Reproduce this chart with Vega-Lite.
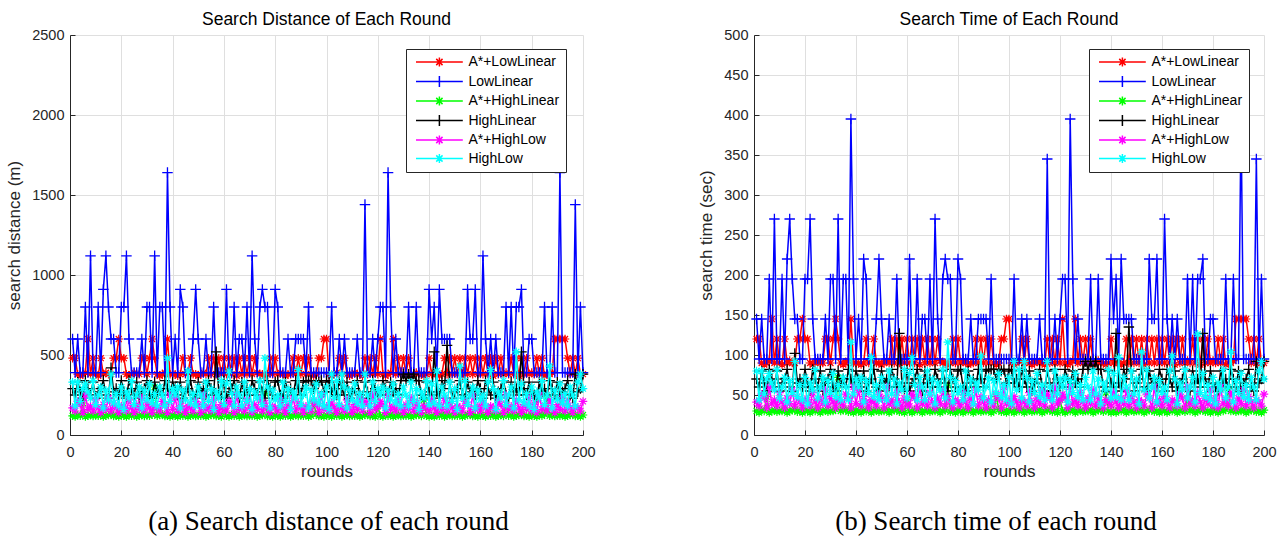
{
"$schema": "https://vega.github.io/schema/vega-lite/v6.json",
"background": "white",
"padding": {"left": 5, "top": 10, "right": 5, "bottom": 5},
"spacing": 101,
"datasets": {
"dist": [
{"r":1,"a":480,"b":600,"c":120,"d":290,"e":170,"f":330},
{"r":2,"a":480,"b":390,"c":115,"d":250,"e":150,"f":180},
{"r":3,"a":380,"b":600,"c":125,"d":330,"e":210,"f":330},
{"r":4,"a":370,"b":390,"c":120,"d":270,"e":190,"f":210},
{"r":5,"a":380,"b":390,"c":200,"d":230,"e":140,"f":290},
{"r":6,"a":390,"b":800,"c":115,"d":340,"e":250,"f":320},
{"r":7,"a":600,"b":390,"c":120,"d":290,"e":160,"f":270},
{"r":8,"a":380,"b":1120,"c":125,"d":250,"e":180,"f":230},
{"r":9,"a":480,"b":390,"c":118,"d":330,"e":150,"f":340},
{"r":10,"a":380,"b":390,"c":122,"d":230,"e":220,"f":190},
{"r":11,"a":370,"b":800,"c":120,"d":270,"e":170,"f":250},
{"r":12,"a":480,"b":390,"c":128,"d":290,"e":140,"f":300},
{"r":13,"a":380,"b":910,"c":115,"d":340,"e":190,"f":170},
{"r":14,"a":390,"b":1120,"c":120,"d":250,"e":160,"f":280},
{"r":15,"a":380,"b":800,"c":125,"d":230,"e":230,"f":220},
{"r":16,"a":380,"b":600,"c":130,"d":420,"e":150,"f":380},
{"r":17,"a":480,"b":600,"c":118,"d":270,"e":200,"f":200},
{"r":18,"a":480,"b":390,"c":120,"d":290,"e":170,"f":260},
{"r":19,"a":600,"b":390,"c":115,"d":250,"e":140,"f":180},
{"r":20,"a":480,"b":800,"c":125,"d":340,"e":180,"f":300},
{"r":21,"a":480,"b":800,"c":120,"d":270,"e":180,"f":160},
{"r":22,"a":380,"b":1120,"c":115,"d":230,"e":150,"f":270},
{"r":23,"a":370,"b":600,"c":125,"d":340,"e":220,"f":230},
{"r":24,"a":380,"b":390,"c":120,"d":290,"e":170,"f":340},
{"r":25,"a":390,"b":390,"c":130,"d":250,"e":140,"f":190},
{"r":26,"a":380,"b":390,"c":115,"d":330,"e":190,"f":250},
{"r":27,"a":380,"b":390,"c":120,"d":230,"e":160,"f":300},
{"r":28,"a":480,"b":600,"c":125,"d":270,"e":230,"f":170},
{"r":29,"a":480,"b":390,"c":118,"d":290,"e":150,"f":280},
{"r":30,"a":380,"b":800,"c":122,"d":340,"e":200,"f":220},
{"r":31,"a":480,"b":800,"c":120,"d":250,"e":170,"f":320},
{"r":32,"a":600,"b":390,"c":128,"d":230,"e":140,"f":200},
{"r":33,"a":480,"b":1120,"c":300,"d":330,"e":180,"f":260},
{"r":34,"a":380,"b":390,"c":120,"d":270,"e":170,"f":180},
{"r":35,"a":370,"b":800,"c":125,"d":290,"e":150,"f":300},
{"r":36,"a":380,"b":800,"c":130,"d":250,"e":210,"f":250},
{"r":37,"a":390,"b":390,"c":118,"d":340,"e":190,"f":180},
{"r":38,"a":600,"b":1640,"c":120,"d":290,"e":140,"f":480},
{"r":39,"a":380,"b":800,"c":115,"d":250,"e":250,"f":210},
{"r":40,"a":380,"b":390,"c":125,"d":330,"e":160,"f":290},
{"r":41,"a":380,"b":600,"c":120,"d":290,"e":230,"f":250},
{"r":42,"a":370,"b":390,"c":115,"d":250,"e":150,"f":300},
{"r":43,"a":380,"b":910,"c":125,"d":330,"e":200,"f":170},
{"r":44,"a":480,"b":800,"c":120,"d":230,"e":170,"f":280},
{"r":45,"a":380,"b":390,"c":130,"d":270,"e":140,"f":220},
{"r":46,"a":390,"b":390,"c":115,"d":290,"e":180,"f":400},
{"r":47,"a":480,"b":390,"c":120,"d":340,"e":170,"f":200},
{"r":48,"a":380,"b":600,"c":125,"d":250,"e":150,"f":260},
{"r":49,"a":380,"b":910,"c":118,"d":230,"e":210,"f":180},
{"r":50,"a":370,"b":600,"c":122,"d":330,"e":190,"f":300},
{"r":51,"a":380,"b":390,"c":120,"d":270,"e":140,"f":250},
{"r":52,"a":390,"b":390,"c":128,"d":290,"e":250,"f":180},
{"r":53,"a":380,"b":600,"c":115,"d":250,"e":160,"f":330},
{"r":54,"a":480,"b":390,"c":120,"d":340,"e":180,"f":210},
{"r":55,"a":380,"b":390,"c":125,"d":290,"e":150,"f":290},
{"r":56,"a":480,"b":800,"c":130,"d":250,"e":220,"f":160},
{"r":57,"a":380,"b":390,"c":118,"d":520,"e":170,"f":270},
{"r":58,"a":480,"b":390,"c":120,"d":270,"e":140,"f":230},
{"r":59,"a":380,"b":390,"c":115,"d":230,"e":190,"f":340},
{"r":60,"a":480,"b":390,"c":180,"d":340,"e":160,"f":190},
{"r":61,"a":380,"b":910,"c":120,"d":230,"e":150,"f":320},
{"r":62,"a":480,"b":390,"c":115,"d":270,"e":210,"f":400},
{"r":63,"a":380,"b":390,"c":125,"d":290,"e":190,"f":260},
{"r":64,"a":480,"b":800,"c":120,"d":340,"e":140,"f":180},
{"r":65,"a":370,"b":390,"c":130,"d":250,"e":250,"f":300},
{"r":66,"a":480,"b":600,"c":115,"d":230,"e":160,"f":250},
{"r":67,"a":380,"b":600,"c":120,"d":330,"e":180,"f":180},
{"r":68,"a":480,"b":390,"c":125,"d":270,"e":150,"f":330},
{"r":69,"a":380,"b":800,"c":118,"d":290,"e":220,"f":210},
{"r":70,"a":480,"b":390,"c":122,"d":250,"e":170,"f":290},
{"r":71,"a":380,"b":1120,"c":120,"d":340,"e":140,"f":160},
{"r":72,"a":480,"b":600,"c":128,"d":290,"e":190,"f":270},
{"r":73,"a":390,"b":390,"c":115,"d":250,"e":160,"f":230},
{"r":74,"a":380,"b":800,"c":120,"d":330,"e":230,"f":340},
{"r":75,"a":380,"b":910,"c":125,"d":270,"e":150,"f":190},
{"r":76,"a":370,"b":800,"c":260,"d":230,"e":200,"f":480},
{"r":77,"a":380,"b":800,"c":118,"d":340,"e":170,"f":300},
{"r":78,"a":480,"b":390,"c":120,"d":290,"e":140,"f":170},
{"r":79,"a":380,"b":390,"c":115,"d":250,"e":180,"f":280},
{"r":80,"a":480,"b":910,"c":125,"d":330,"e":170,"f":220},
{"r":81,"a":380,"b":800,"c":120,"d":340,"e":150,"f":250},
{"r":82,"a":390,"b":390,"c":115,"d":250,"e":220,"f":180},
{"r":83,"a":380,"b":390,"c":125,"d":230,"e":170,"f":330},
{"r":84,"a":370,"b":390,"c":120,"d":330,"e":140,"f":210},
{"r":85,"a":380,"b":600,"c":130,"d":270,"e":190,"f":290},
{"r":86,"a":380,"b":390,"c":115,"d":290,"e":160,"f":160},
{"r":87,"a":480,"b":390,"c":120,"d":250,"e":230,"f":270},
{"r":88,"a":380,"b":600,"c":125,"d":340,"e":150,"f":230},
{"r":89,"a":480,"b":600,"c":118,"d":290,"e":200,"f":410},
{"r":90,"a":380,"b":600,"c":122,"d":250,"e":170,"f":190},
{"r":91,"a":480,"b":600,"c":120,"d":330,"e":140,"f":250},
{"r":92,"a":380,"b":390,"c":128,"d":340,"e":180,"f":300},
{"r":93,"a":480,"b":800,"c":115,"d":340,"e":170,"f":170},
{"r":94,"a":380,"b":390,"c":120,"d":340,"e":150,"f":280},
{"r":95,"a":370,"b":390,"c":200,"d":290,"e":210,"f":220},
{"r":96,"a":380,"b":390,"c":130,"d":340,"e":190,"f":320},
{"r":97,"a":480,"b":390,"c":118,"d":330,"e":140,"f":200},
{"r":98,"a":480,"b":390,"c":120,"d":340,"e":250,"f":260},
{"r":99,"a":600,"b":390,"c":115,"d":270,"e":160,"f":180},
{"r":100,"a":600,"b":390,"c":125,"d":340,"e":180,"f":300},
{"r":101,"a":380,"b":390,"c":120,"d":330,"e":150,"f":160},
{"r":102,"a":370,"b":800,"c":115,"d":270,"e":200,"f":380},
{"r":103,"a":380,"b":390,"c":125,"d":290,"e":170,"f":230},
{"r":104,"a":390,"b":390,"c":120,"d":250,"e":140,"f":340},
{"r":105,"a":480,"b":600,"c":130,"d":340,"e":180,"f":190},
{"r":106,"a":380,"b":390,"c":115,"d":290,"e":170,"f":380},
{"r":107,"a":480,"b":600,"c":120,"d":250,"e":150,"f":300},
{"r":108,"a":380,"b":390,"c":125,"d":330,"e":220,"f":170},
{"r":109,"a":370,"b":390,"c":118,"d":230,"e":170,"f":280},
{"r":110,"a":380,"b":390,"c":122,"d":270,"e":140,"f":220},
{"r":111,"a":390,"b":390,"c":120,"d":290,"e":190,"f":320},
{"r":112,"a":380,"b":600,"c":128,"d":340,"e":160,"f":200},
{"r":113,"a":380,"b":390,"c":115,"d":250,"e":230,"f":260},
{"r":114,"a":370,"b":390,"c":120,"d":230,"e":150,"f":180},
{"r":115,"a":480,"b":1440,"c":125,"d":330,"e":210,"f":380},
{"r":116,"a":380,"b":390,"c":130,"d":270,"e":190,"f":250},
{"r":117,"a":480,"b":390,"c":118,"d":230,"e":140,"f":180},
{"r":118,"a":380,"b":600,"c":120,"d":340,"e":250,"f":330},
{"r":119,"a":480,"b":390,"c":115,"d":290,"e":160,"f":210},
{"r":120,"a":380,"b":600,"c":180,"d":250,"e":180,"f":290},
{"r":121,"a":600,"b":800,"c":120,"d":250,"e":210,"f":250},
{"r":122,"a":380,"b":800,"c":115,"d":340,"e":190,"f":300},
{"r":123,"a":370,"b":390,"c":125,"d":290,"e":140,"f":170},
{"r":124,"a":380,"b":1640,"c":120,"d":250,"e":250,"f":280},
{"r":125,"a":390,"b":800,"c":130,"d":330,"e":160,"f":220},
{"r":126,"a":600,"b":390,"c":115,"d":270,"e":180,"f":320},
{"r":127,"a":380,"b":600,"c":120,"d":290,"e":150,"f":200},
{"r":128,"a":480,"b":390,"c":125,"d":250,"e":220,"f":260},
{"r":129,"a":380,"b":390,"c":118,"d":340,"e":170,"f":180},
{"r":130,"a":480,"b":390,"c":122,"d":380,"e":140,"f":300},
{"r":131,"a":380,"b":390,"c":120,"d":340,"e":190,"f":250},
{"r":132,"a":480,"b":800,"c":128,"d":380,"e":160,"f":180},
{"r":133,"a":370,"b":390,"c":115,"d":340,"e":230,"f":330},
{"r":134,"a":380,"b":390,"c":120,"d":380,"e":150,"f":210},
{"r":135,"a":390,"b":800,"c":125,"d":340,"e":200,"f":290},
{"r":136,"a":380,"b":390,"c":130,"d":340,"e":170,"f":160},
{"r":137,"a":380,"b":390,"c":118,"d":250,"e":140,"f":270},
{"r":138,"a":370,"b":390,"c":220,"d":230,"e":180,"f":230},
{"r":139,"a":380,"b":390,"c":120,"d":330,"e":170,"f":340},
{"r":140,"a":480,"b":910,"c":115,"d":270,"e":150,"f":190},
{"r":141,"a":380,"b":600,"c":120,"d":250,"e":220,"f":320},
{"r":142,"a":390,"b":800,"c":115,"d":520,"e":170,"f":200},
{"r":143,"a":380,"b":390,"c":125,"d":270,"e":140,"f":400},
{"r":144,"a":370,"b":910,"c":120,"d":230,"e":190,"f":180},
{"r":145,"a":380,"b":600,"c":130,"d":340,"e":160,"f":300},
{"r":146,"a":480,"b":600,"c":115,"d":290,"e":230,"f":250},
{"r":147,"a":380,"b":600,"c":120,"d":560,"e":150,"f":180},
{"r":148,"a":480,"b":600,"c":125,"d":330,"e":200,"f":330},
{"r":149,"a":380,"b":390,"c":118,"d":230,"e":170,"f":210},
{"r":150,"a":480,"b":390,"c":122,"d":270,"e":140,"f":290},
{"r":151,"a":380,"b":390,"c":120,"d":290,"e":180,"f":160},
{"r":152,"a":480,"b":390,"c":128,"d":340,"e":170,"f":430},
{"r":153,"a":370,"b":390,"c":115,"d":250,"e":150,"f":230},
{"r":154,"a":480,"b":390,"c":120,"d":230,"e":210,"f":340},
{"r":155,"a":380,"b":910,"c":125,"d":330,"e":190,"f":190},
{"r":156,"a":480,"b":600,"c":130,"d":270,"e":140,"f":250},
{"r":157,"a":380,"b":600,"c":118,"d":290,"e":250,"f":300},
{"r":158,"a":480,"b":910,"c":120,"d":250,"e":160,"f":170},
{"r":159,"a":380,"b":390,"c":115,"d":340,"e":180,"f":280},
{"r":160,"a":480,"b":390,"c":125,"d":290,"e":150,"f":220},
{"r":161,"a":380,"b":1120,"c":120,"d":230,"e":200,"f":250},
{"r":162,"a":480,"b":600,"c":115,"d":340,"e":170,"f":180},
{"r":163,"a":380,"b":390,"c":125,"d":290,"e":140,"f":330},
{"r":164,"a":480,"b":600,"c":120,"d":250,"e":180,"f":410},
{"r":165,"a":370,"b":390,"c":130,"d":330,"e":170,"f":290},
{"r":166,"a":480,"b":600,"c":115,"d":230,"e":150,"f":160},
{"r":167,"a":380,"b":390,"c":120,"d":270,"e":210,"f":270},
{"r":168,"a":480,"b":390,"c":125,"d":290,"e":190,"f":230},
{"r":169,"a":380,"b":390,"c":118,"d":340,"e":140,"f":340},
{"r":170,"a":390,"b":800,"c":190,"d":250,"e":250,"f":190},
{"r":171,"a":380,"b":390,"c":120,"d":230,"e":160,"f":250},
{"r":172,"a":480,"b":800,"c":128,"d":330,"e":180,"f":300},
{"r":173,"a":380,"b":390,"c":115,"d":270,"e":150,"f":170},
{"r":174,"a":480,"b":800,"c":120,"d":290,"e":220,"f":520},
{"r":175,"a":370,"b":800,"c":125,"d":250,"e":170,"f":220},
{"r":176,"a":480,"b":910,"c":130,"d":520,"e":140,"f":320},
{"r":177,"a":380,"b":390,"c":118,"d":290,"e":190,"f":200},
{"r":178,"a":480,"b":390,"c":120,"d":250,"e":160,"f":260},
{"r":179,"a":380,"b":600,"c":115,"d":330,"e":230,"f":180},
{"r":180,"a":390,"b":600,"c":125,"d":270,"e":150,"f":300},
{"r":181,"a":380,"b":390,"c":120,"d":250,"e":190,"f":160},
{"r":182,"a":480,"b":390,"c":115,"d":230,"e":140,"f":270},
{"r":183,"a":380,"b":390,"c":125,"d":330,"e":250,"f":230},
{"r":184,"a":480,"b":390,"c":120,"d":270,"e":160,"f":340},
{"r":185,"a":370,"b":800,"c":130,"d":290,"e":180,"f":190},
{"r":186,"a":380,"b":390,"c":240,"d":250,"e":150,"f":250},
{"r":187,"a":380,"b":390,"c":120,"d":340,"e":220,"f":430},
{"r":188,"a":390,"b":800,"c":125,"d":290,"e":170,"f":170},
{"r":189,"a":600,"b":390,"c":118,"d":250,"e":140,"f":280},
{"r":190,"a":600,"b":390,"c":122,"d":330,"e":190,"f":220},
{"r":191,"a":600,"b":1640,"c":120,"d":230,"e":160,"f":320},
{"r":192,"a":600,"b":390,"c":128,"d":270,"e":230,"f":200},
{"r":193,"a":600,"b":390,"c":115,"d":290,"e":150,"f":260},
{"r":194,"a":480,"b":390,"c":120,"d":340,"e":200,"f":180},
{"r":195,"a":380,"b":390,"c":125,"d":250,"e":170,"f":300},
{"r":196,"a":480,"b":390,"c":130,"d":230,"e":140,"f":250},
{"r":197,"a":380,"b":1440,"c":118,"d":380,"e":180,"f":180},
{"r":198,"a":480,"b":390,"c":120,"d":270,"e":170,"f":330},
{"r":199,"a":380,"b":800,"c":115,"d":290,"e":150,"f":380},
{"r":200,"a":380,"b":390,"c":125,"d":380,"e":210,"f":290}
],
"time": [
{"r":1,"a":120,"b":145,"c":30,"d":70,"e":41,"f":80},
{"r":2,"a":120,"b":95,"c":28,"d":60,"e":36,"f":44},
{"r":3,"a":90,"b":145,"c":31,"d":80,"e":51,"f":80},
{"r":4,"a":88,"b":95,"c":30,"d":65,"e":46,"f":51},
{"r":5,"a":90,"b":95,"c":48,"d":55,"e":34,"f":70},
{"r":6,"a":93,"b":195,"c":28,"d":82,"e":60,"f":77},
{"r":7,"a":145,"b":95,"c":30,"d":70,"e":39,"f":65},
{"r":8,"a":90,"b":270,"c":31,"d":60,"e":44,"f":56},
{"r":9,"a":120,"b":95,"c":29,"d":80,"e":36,"f":82},
{"r":10,"a":90,"b":95,"c":30,"d":55,"e":53,"f":46},
{"r":11,"a":88,"b":195,"c":30,"d":65,"e":41,"f":60},
{"r":12,"a":120,"b":95,"c":32,"d":70,"e":34,"f":72},
{"r":13,"a":90,"b":220,"c":28,"d":82,"e":46,"f":41},
{"r":14,"a":93,"b":270,"c":30,"d":60,"e":39,"f":68},
{"r":15,"a":90,"b":195,"c":31,"d":55,"e":56,"f":53},
{"r":16,"a":90,"b":145,"c":32,"d":102,"e":36,"f":92},
{"r":17,"a":120,"b":145,"c":29,"d":65,"e":48,"f":48},
{"r":18,"a":120,"b":95,"c":30,"d":70,"e":41,"f":63},
{"r":19,"a":145,"b":95,"c":28,"d":60,"e":34,"f":44},
{"r":20,"a":120,"b":195,"c":31,"d":82,"e":44,"f":72},
{"r":21,"a":120,"b":195,"c":30,"d":65,"e":44,"f":39},
{"r":22,"a":90,"b":270,"c":28,"d":55,"e":36,"f":65},
{"r":23,"a":88,"b":145,"c":31,"d":82,"e":53,"f":56},
{"r":24,"a":90,"b":95,"c":30,"d":70,"e":41,"f":82},
{"r":25,"a":93,"b":95,"c":32,"d":60,"e":34,"f":46},
{"r":26,"a":90,"b":95,"c":28,"d":80,"e":46,"f":60},
{"r":27,"a":90,"b":95,"c":30,"d":55,"e":39,"f":72},
{"r":28,"a":120,"b":145,"c":31,"d":65,"e":56,"f":41},
{"r":29,"a":120,"b":95,"c":29,"d":70,"e":36,"f":68},
{"r":30,"a":90,"b":195,"c":30,"d":82,"e":48,"f":53},
{"r":31,"a":120,"b":195,"c":30,"d":60,"e":41,"f":77},
{"r":32,"a":145,"b":95,"c":32,"d":55,"e":34,"f":48},
{"r":33,"a":120,"b":270,"c":72,"d":80,"e":44,"f":63},
{"r":34,"a":90,"b":95,"c":30,"d":65,"e":41,"f":44},
{"r":35,"a":88,"b":195,"c":31,"d":70,"e":36,"f":72},
{"r":36,"a":90,"b":195,"c":32,"d":60,"e":51,"f":60},
{"r":37,"a":93,"b":95,"c":29,"d":82,"e":46,"f":44},
{"r":38,"a":145,"b":395,"c":30,"d":70,"e":34,"f":116},
{"r":39,"a":90,"b":195,"c":28,"d":60,"e":60,"f":51},
{"r":40,"a":90,"b":95,"c":31,"d":80,"e":39,"f":70},
{"r":41,"a":90,"b":145,"c":30,"d":70,"e":56,"f":60},
{"r":42,"a":88,"b":95,"c":28,"d":60,"e":36,"f":72},
{"r":43,"a":90,"b":220,"c":31,"d":80,"e":48,"f":41},
{"r":44,"a":120,"b":195,"c":30,"d":55,"e":41,"f":68},
{"r":45,"a":90,"b":95,"c":32,"d":65,"e":34,"f":53},
{"r":46,"a":93,"b":95,"c":28,"d":70,"e":44,"f":97},
{"r":47,"a":120,"b":95,"c":30,"d":82,"e":41,"f":48},
{"r":48,"a":90,"b":145,"c":31,"d":60,"e":36,"f":63},
{"r":49,"a":90,"b":220,"c":29,"d":55,"e":51,"f":44},
{"r":50,"a":88,"b":145,"c":30,"d":80,"e":46,"f":72},
{"r":51,"a":90,"b":95,"c":30,"d":65,"e":34,"f":60},
{"r":52,"a":93,"b":95,"c":32,"d":70,"e":60,"f":44},
{"r":53,"a":90,"b":145,"c":28,"d":60,"e":39,"f":80},
{"r":54,"a":120,"b":95,"c":30,"d":82,"e":44,"f":51},
{"r":55,"a":90,"b":95,"c":31,"d":70,"e":36,"f":70},
{"r":56,"a":120,"b":195,"c":32,"d":60,"e":53,"f":39},
{"r":57,"a":90,"b":95,"c":29,"d":127,"e":41,"f":65},
{"r":58,"a":120,"b":95,"c":30,"d":65,"e":34,"f":56},
{"r":59,"a":90,"b":95,"c":28,"d":55,"e":46,"f":82},
{"r":60,"a":120,"b":95,"c":44,"d":82,"e":39,"f":46},
{"r":61,"a":90,"b":220,"c":30,"d":55,"e":36,"f":77},
{"r":62,"a":120,"b":95,"c":28,"d":65,"e":51,"f":97},
{"r":63,"a":90,"b":95,"c":31,"d":70,"e":46,"f":63},
{"r":64,"a":120,"b":195,"c":30,"d":82,"e":34,"f":44},
{"r":65,"a":88,"b":95,"c":32,"d":60,"e":60,"f":72},
{"r":66,"a":120,"b":145,"c":28,"d":55,"e":39,"f":60},
{"r":67,"a":90,"b":145,"c":30,"d":80,"e":44,"f":44},
{"r":68,"a":120,"b":95,"c":31,"d":65,"e":36,"f":80},
{"r":69,"a":90,"b":195,"c":29,"d":70,"e":53,"f":51},
{"r":70,"a":120,"b":95,"c":30,"d":60,"e":41,"f":70},
{"r":71,"a":90,"b":270,"c":30,"d":82,"e":34,"f":39},
{"r":72,"a":120,"b":145,"c":32,"d":70,"e":46,"f":65},
{"r":73,"a":93,"b":95,"c":28,"d":60,"e":39,"f":56},
{"r":74,"a":90,"b":195,"c":30,"d":80,"e":56,"f":82},
{"r":75,"a":90,"b":220,"c":31,"d":65,"e":36,"f":46},
{"r":76,"a":88,"b":195,"c":62,"d":55,"e":48,"f":116},
{"r":77,"a":90,"b":195,"c":29,"d":82,"e":41,"f":72},
{"r":78,"a":120,"b":95,"c":30,"d":70,"e":34,"f":41},
{"r":79,"a":90,"b":95,"c":28,"d":60,"e":44,"f":68},
{"r":80,"a":120,"b":220,"c":31,"d":80,"e":41,"f":53},
{"r":81,"a":90,"b":195,"c":30,"d":82,"e":36,"f":60},
{"r":82,"a":93,"b":95,"c":28,"d":60,"e":53,"f":44},
{"r":83,"a":90,"b":95,"c":31,"d":55,"e":41,"f":80},
{"r":84,"a":88,"b":95,"c":30,"d":80,"e":34,"f":51},
{"r":85,"a":90,"b":145,"c":32,"d":65,"e":46,"f":70},
{"r":86,"a":90,"b":95,"c":28,"d":70,"e":39,"f":39},
{"r":87,"a":120,"b":95,"c":30,"d":60,"e":56,"f":65},
{"r":88,"a":90,"b":145,"c":31,"d":82,"e":36,"f":56},
{"r":89,"a":120,"b":145,"c":29,"d":70,"e":48,"f":99},
{"r":90,"a":90,"b":145,"c":30,"d":60,"e":41,"f":46},
{"r":91,"a":120,"b":145,"c":30,"d":80,"e":34,"f":60},
{"r":92,"a":90,"b":95,"c":32,"d":82,"e":44,"f":72},
{"r":93,"a":120,"b":195,"c":28,"d":82,"e":41,"f":41},
{"r":94,"a":90,"b":95,"c":30,"d":82,"e":36,"f":68},
{"r":95,"a":88,"b":95,"c":48,"d":70,"e":51,"f":53},
{"r":96,"a":90,"b":95,"c":32,"d":82,"e":46,"f":77},
{"r":97,"a":120,"b":95,"c":29,"d":80,"e":34,"f":48},
{"r":98,"a":120,"b":95,"c":30,"d":82,"e":60,"f":63},
{"r":99,"a":145,"b":95,"c":28,"d":65,"e":39,"f":44},
{"r":100,"a":145,"b":95,"c":31,"d":82,"e":44,"f":72},
{"r":101,"a":90,"b":95,"c":30,"d":80,"e":36,"f":39},
{"r":102,"a":88,"b":195,"c":28,"d":65,"e":48,"f":92},
{"r":103,"a":90,"b":95,"c":31,"d":70,"e":41,"f":56},
{"r":104,"a":93,"b":95,"c":30,"d":60,"e":34,"f":82},
{"r":105,"a":120,"b":145,"c":32,"d":82,"e":44,"f":46},
{"r":106,"a":90,"b":95,"c":28,"d":70,"e":41,"f":92},
{"r":107,"a":120,"b":145,"c":30,"d":60,"e":36,"f":72},
{"r":108,"a":90,"b":95,"c":31,"d":80,"e":53,"f":41},
{"r":109,"a":88,"b":95,"c":29,"d":55,"e":41,"f":68},
{"r":110,"a":90,"b":95,"c":30,"d":65,"e":34,"f":53},
{"r":111,"a":93,"b":95,"c":30,"d":70,"e":46,"f":77},
{"r":112,"a":90,"b":145,"c":32,"d":82,"e":39,"f":48},
{"r":113,"a":90,"b":95,"c":28,"d":60,"e":56,"f":63},
{"r":114,"a":88,"b":95,"c":30,"d":55,"e":36,"f":44},
{"r":115,"a":120,"b":345,"c":31,"d":80,"e":51,"f":92},
{"r":116,"a":90,"b":95,"c":32,"d":65,"e":46,"f":60},
{"r":117,"a":120,"b":95,"c":29,"d":55,"e":34,"f":44},
{"r":118,"a":90,"b":145,"c":30,"d":82,"e":60,"f":80},
{"r":119,"a":120,"b":95,"c":28,"d":70,"e":39,"f":51},
{"r":120,"a":90,"b":145,"c":44,"d":60,"e":44,"f":70},
{"r":121,"a":145,"b":195,"c":30,"d":60,"e":51,"f":60},
{"r":122,"a":90,"b":195,"c":28,"d":82,"e":46,"f":72},
{"r":123,"a":88,"b":95,"c":31,"d":70,"e":34,"f":41},
{"r":124,"a":90,"b":395,"c":30,"d":60,"e":60,"f":68},
{"r":125,"a":93,"b":195,"c":32,"d":80,"e":39,"f":53},
{"r":126,"a":145,"b":95,"c":28,"d":65,"e":44,"f":77},
{"r":127,"a":90,"b":145,"c":30,"d":70,"e":36,"f":48},
{"r":128,"a":120,"b":95,"c":31,"d":60,"e":53,"f":63},
{"r":129,"a":90,"b":95,"c":29,"d":82,"e":41,"f":44},
{"r":130,"a":120,"b":95,"c":30,"d":92,"e":34,"f":72},
{"r":131,"a":90,"b":95,"c":30,"d":82,"e":46,"f":60},
{"r":132,"a":120,"b":195,"c":32,"d":92,"e":39,"f":44},
{"r":133,"a":88,"b":95,"c":28,"d":82,"e":56,"f":80},
{"r":134,"a":90,"b":95,"c":30,"d":92,"e":36,"f":51},
{"r":135,"a":93,"b":195,"c":31,"d":82,"e":48,"f":70},
{"r":136,"a":90,"b":95,"c":32,"d":82,"e":41,"f":39},
{"r":137,"a":90,"b":95,"c":29,"d":60,"e":34,"f":65},
{"r":138,"a":88,"b":95,"c":53,"d":55,"e":44,"f":56},
{"r":139,"a":90,"b":95,"c":30,"d":80,"e":41,"f":82},
{"r":140,"a":120,"b":220,"c":28,"d":65,"e":36,"f":46},
{"r":141,"a":90,"b":145,"c":30,"d":60,"e":53,"f":77},
{"r":142,"a":93,"b":195,"c":28,"d":127,"e":41,"f":48},
{"r":143,"a":90,"b":95,"c":31,"d":65,"e":34,"f":97},
{"r":144,"a":88,"b":220,"c":30,"d":55,"e":46,"f":44},
{"r":145,"a":90,"b":145,"c":32,"d":82,"e":39,"f":72},
{"r":146,"a":120,"b":145,"c":28,"d":70,"e":56,"f":60},
{"r":147,"a":90,"b":145,"c":30,"d":135,"e":36,"f":44},
{"r":148,"a":120,"b":145,"c":31,"d":80,"e":48,"f":80},
{"r":149,"a":90,"b":95,"c":29,"d":55,"e":41,"f":51},
{"r":150,"a":120,"b":95,"c":30,"d":65,"e":34,"f":70},
{"r":151,"a":90,"b":95,"c":30,"d":70,"e":44,"f":39},
{"r":152,"a":120,"b":95,"c":32,"d":82,"e":41,"f":104},
{"r":153,"a":88,"b":95,"c":28,"d":60,"e":36,"f":56},
{"r":154,"a":120,"b":95,"c":30,"d":55,"e":51,"f":82},
{"r":155,"a":90,"b":220,"c":31,"d":80,"e":46,"f":46},
{"r":156,"a":120,"b":145,"c":32,"d":65,"e":34,"f":60},
{"r":157,"a":90,"b":145,"c":29,"d":70,"e":60,"f":72},
{"r":158,"a":120,"b":220,"c":30,"d":60,"e":39,"f":41},
{"r":159,"a":90,"b":95,"c":28,"d":82,"e":44,"f":68},
{"r":160,"a":120,"b":95,"c":31,"d":70,"e":36,"f":53},
{"r":161,"a":90,"b":270,"c":30,"d":55,"e":48,"f":60},
{"r":162,"a":120,"b":145,"c":28,"d":82,"e":41,"f":44},
{"r":163,"a":90,"b":95,"c":31,"d":70,"e":34,"f":80},
{"r":164,"a":120,"b":145,"c":30,"d":60,"e":44,"f":99},
{"r":165,"a":88,"b":95,"c":32,"d":80,"e":41,"f":70},
{"r":166,"a":120,"b":145,"c":28,"d":55,"e":36,"f":39},
{"r":167,"a":90,"b":95,"c":30,"d":65,"e":51,"f":65},
{"r":168,"a":120,"b":95,"c":31,"d":70,"e":46,"f":56},
{"r":169,"a":90,"b":95,"c":29,"d":82,"e":34,"f":82},
{"r":170,"a":93,"b":195,"c":46,"d":60,"e":60,"f":46},
{"r":171,"a":90,"b":95,"c":30,"d":55,"e":39,"f":60},
{"r":172,"a":120,"b":195,"c":32,"d":80,"e":44,"f":72},
{"r":173,"a":90,"b":95,"c":28,"d":65,"e":36,"f":41},
{"r":174,"a":120,"b":195,"c":30,"d":70,"e":53,"f":126},
{"r":175,"a":88,"b":195,"c":31,"d":60,"e":41,"f":53},
{"r":176,"a":120,"b":220,"c":32,"d":127,"e":34,"f":77},
{"r":177,"a":90,"b":95,"c":29,"d":70,"e":46,"f":48},
{"r":178,"a":120,"b":95,"c":30,"d":60,"e":39,"f":63},
{"r":179,"a":90,"b":145,"c":28,"d":80,"e":56,"f":44},
{"r":180,"a":93,"b":145,"c":31,"d":65,"e":36,"f":72},
{"r":181,"a":90,"b":95,"c":30,"d":60,"e":46,"f":39},
{"r":182,"a":120,"b":95,"c":28,"d":55,"e":34,"f":65},
{"r":183,"a":90,"b":95,"c":31,"d":80,"e":60,"f":56},
{"r":184,"a":120,"b":95,"c":30,"d":65,"e":39,"f":82},
{"r":185,"a":88,"b":195,"c":32,"d":70,"e":44,"f":46},
{"r":186,"a":90,"b":95,"c":58,"d":60,"e":36,"f":60},
{"r":187,"a":90,"b":95,"c":30,"d":82,"e":53,"f":104},
{"r":188,"a":93,"b":195,"c":31,"d":70,"e":41,"f":41},
{"r":189,"a":145,"b":95,"c":29,"d":60,"e":34,"f":68},
{"r":190,"a":145,"b":95,"c":30,"d":80,"e":46,"f":53},
{"r":191,"a":145,"b":395,"c":30,"d":55,"e":39,"f":77},
{"r":192,"a":145,"b":95,"c":32,"d":65,"e":56,"f":48},
{"r":193,"a":145,"b":95,"c":28,"d":70,"e":36,"f":63},
{"r":194,"a":120,"b":95,"c":30,"d":82,"e":48,"f":44},
{"r":195,"a":90,"b":95,"c":31,"d":60,"e":41,"f":72},
{"r":196,"a":120,"b":95,"c":32,"d":55,"e":34,"f":60},
{"r":197,"a":90,"b":345,"c":29,"d":92,"e":44,"f":44},
{"r":198,"a":120,"b":95,"c":30,"d":65,"e":41,"f":80},
{"r":199,"a":90,"b":195,"c":28,"d":70,"e":36,"f":92},
{"r":200,"a":90,"b":95,"c":31,"d":92,"e":51,"f":70}
]
},
"config": {
  "font": "Liberation Sans",
  "view": {"stroke": null},
  "axis": {"domainColor": "#262626", "domainWidth": 1, "tickColor": "#262626", "tickSize": -5, "tickWidth": 1, "labelColor": "#262626", "labelFont": "Liberation Sans", "labelFontSize": 14.5, "titleFont": "Liberation Sans", "titleFontSize": 17, "titleFontWeight": "normal", "titleColor": "#262626", "gridColor": "#dfdfdf", "gridWidth": 1, "labelFlush": false, "labelOverlap": false, "format": "d"},
  "axisX": {"labelPadding": 15, "titlePadding": 5},
  "axisY": {"labelPadding": 11, "titlePadding": 8},
  "title": {"font": "Liberation Sans", "fontSize": 17.5, "fontWeight": "normal", "color": "#000000"},
  "legend": {"padding": 6, "strokeColor": "#262626", "fillColor": "#ffffff", "cornerRadius": 0, "labelFont": "Liberation Sans", "labelFontSize": 14, "labelColor": "#000000", "symbolOffset": 20.4, "labelOffset": 22, "rowPadding": 2.5, "symbolStrokeWidth": 1.5, "symbolSize": 81}
},
"hconcat": [
{
  "title": {"text": "(a) Search distance of each round", "orient": "bottom", "font": "Liberation Serif", "fontSize": 27, "fontWeight": "normal", "color": "#000000", "offset": 29, "anchor": "middle", "dx": 28},
  "vconcat": [{
    "width": 513, "height": 400,
    "title": {"text": "Search Distance of Each Round", "offset": -1},
    "data": {"name": "dist"},
    "transform": [{"fold": ["a","b","c","d","e","f"], "as": ["s","v"]}],
    "resolve": {"legend": {"color": "independent", "shape": "independent"}},
    "encoding": {
      "x": {"field": "r", "type": "quantitative", "scale": {"domain": [0,200], "nice": false}, "axis": {"values": [0,20,40,60,80,100,120,140,160,180,200], "title": "rounds"}},
      "y": {"field": "v", "type": "quantitative", "scale": {"domain": [0,2500], "nice": false}, "axis": {"values": [0,500,1000,1500,2000,2500], "title": "search distance (m)"}},
      "color": {"field": "s", "type": "nominal", "scale": {"domain": ["a","b","c","d","e","f"], "range": ["#ff0000","#0000ff","#00ff00","#000000","#ff00ff","#00ffff"]}, "legend": null}
    },
    "layer": [
      {"transform": [{"filter": {"field": "s", "equal": "a"}}], "mark": {"type": "line", "strokeWidth": 1.5, "point": {"filled": false, "shape": "M-1,0L1,0M0,-1L0,1M-0.7,-0.7L0.7,0.7M-0.7,0.7L0.7,-0.7", "size": 72, "strokeWidth": 1.2}}},
      {"transform": [{"filter": {"field": "s", "equal": "b"}}], "mark": {"type": "line", "strokeWidth": 1.5, "point": {"filled": false, "shape": "M-1,0L1,0M0,-1L0,1", "size": 110, "strokeWidth": 1.3}}},
      {"transform": [{"filter": {"field": "s", "equal": "c"}}], "mark": {"type": "line", "strokeWidth": 1.5, "point": {"filled": false, "shape": "M-1,0L1,0M0,-1L0,1M-0.7,-0.7L0.7,0.7M-0.7,0.7L0.7,-0.7", "size": 72, "strokeWidth": 1.2}}},
      {"transform": [{"filter": {"field": "s", "equal": "d"}}], "mark": {"type": "line", "strokeWidth": 1.5, "point": {"filled": false, "shape": "M-1,0L1,0M0,-1L0,1", "size": 110, "strokeWidth": 1.3}}},
      {"transform": [{"filter": {"field": "s", "equal": "e"}}], "mark": {"type": "line", "strokeWidth": 1.5, "point": {"filled": false, "shape": "M-1,0L1,0M0,-1L0,1M-0.7,-0.7L0.7,0.7M-0.7,0.7L0.7,-0.7", "size": 72, "strokeWidth": 1.2}}},
      {"transform": [{"filter": {"field": "s", "equal": "f"}}], "mark": {"type": "line", "strokeWidth": 1.5, "point": {"filled": false, "shape": "M-1,0L1,0M0,-1L0,1M-0.7,-0.7L0.7,0.7M-0.7,0.7L0.7,-0.7", "size": 72, "strokeWidth": 1.2}}},
      {"transform": [{"filter": {"field": "r", "equal": 1}}], "mark": {"type": "point", "filled": false, "opacity": 0, "size": 81, "strokeWidth": 1.5},
       "encoding": {
         "color": {"field": "s", "type": "nominal", "legend": {"title": null, "orient": "none", "legendX": 336, "legendY": 14, "labelExpr": "datum.label=='a'?'A*+LowLinear':datum.label=='b'?'LowLinear':datum.label=='c'?'A*+HighLinear':datum.label=='d'?'HighLinear':datum.label=='e'?'A*+HighLow':'HighLow'"}},
         "shape": {"field": "s", "type": "nominal", "scale": {"domain": ["a","b","c","d","e","f"], "range": ["M-5.2,0L5.2,0M0,-1L0,1M-0.7,-0.7L0.7,0.7M-0.7,0.7L0.7,-0.7","M-5.2,0L5.2,0M0,-1.2L0,1.2","M-5.2,0L5.2,0M0,-1L0,1M-0.7,-0.7L0.7,0.7M-0.7,0.7L0.7,-0.7","M-5.2,0L5.2,0M0,-1.2L0,1.2","M-5.2,0L5.2,0M0,-1L0,1M-0.7,-0.7L0.7,0.7M-0.7,0.7L0.7,-0.7","M-5.2,0L5.2,0M0,-1L0,1M-0.7,-0.7L0.7,0.7M-0.7,0.7L0.7,-0.7"]}, "legend": {"title": null, "orient": "none", "legendX": 336, "legendY": 14, "labelExpr": "datum.label=='a'?'A*+LowLinear':datum.label=='b'?'LowLinear':datum.label=='c'?'A*+HighLinear':datum.label=='d'?'HighLinear':datum.label=='e'?'A*+HighLow':'HighLow'"}}
       }}
    ]
  }]
},
{
  "title": {"text": "(b) Search time of each round", "orient": "bottom", "font": "Liberation Serif", "fontSize": 27, "fontWeight": "normal", "color": "#000000", "offset": 29, "anchor": "middle", "dx": 9},
  "vconcat": [{
    "width": 510, "height": 400,
    "title": {"text": "Search Time of Each Round", "offset": -1},
    "data": {"name": "time"},
    "transform": [{"fold": ["a","b","c","d","e","f"], "as": ["s","v"]}],
    "resolve": {"legend": {"color": "independent", "shape": "independent"}},
    "encoding": {
      "x": {"field": "r", "type": "quantitative", "scale": {"domain": [0,200], "nice": false}, "axis": {"values": [0,20,40,60,80,100,120,140,160,180,200], "title": "rounds"}},
      "y": {"field": "v", "type": "quantitative", "scale": {"domain": [0,500], "nice": false}, "axis": {"values": [0,50,100,150,200,250,300,350,400,450,500], "title": "search time (sec)"}},
      "color": {"field": "s", "type": "nominal", "scale": {"domain": ["a","b","c","d","e","f"], "range": ["#ff0000","#0000ff","#00ff00","#000000","#ff00ff","#00ffff"]}, "legend": null}
    },
    "layer": [
      {"transform": [{"filter": {"field": "s", "equal": "a"}}], "mark": {"type": "line", "strokeWidth": 1.5, "point": {"filled": false, "shape": "M-1,0L1,0M0,-1L0,1M-0.7,-0.7L0.7,0.7M-0.7,0.7L0.7,-0.7", "size": 72, "strokeWidth": 1.2}}},
      {"transform": [{"filter": {"field": "s", "equal": "b"}}], "mark": {"type": "line", "strokeWidth": 1.5, "point": {"filled": false, "shape": "M-1,0L1,0M0,-1L0,1", "size": 110, "strokeWidth": 1.3}}},
      {"transform": [{"filter": {"field": "s", "equal": "c"}}], "mark": {"type": "line", "strokeWidth": 1.5, "point": {"filled": false, "shape": "M-1,0L1,0M0,-1L0,1M-0.7,-0.7L0.7,0.7M-0.7,0.7L0.7,-0.7", "size": 72, "strokeWidth": 1.2}}},
      {"transform": [{"filter": {"field": "s", "equal": "d"}}], "mark": {"type": "line", "strokeWidth": 1.5, "point": {"filled": false, "shape": "M-1,0L1,0M0,-1L0,1", "size": 110, "strokeWidth": 1.3}}},
      {"transform": [{"filter": {"field": "s", "equal": "e"}}], "mark": {"type": "line", "strokeWidth": 1.5, "point": {"filled": false, "shape": "M-1,0L1,0M0,-1L0,1M-0.7,-0.7L0.7,0.7M-0.7,0.7L0.7,-0.7", "size": 72, "strokeWidth": 1.2}}},
      {"transform": [{"filter": {"field": "s", "equal": "f"}}], "mark": {"type": "line", "strokeWidth": 1.5, "point": {"filled": false, "shape": "M-1,0L1,0M0,-1L0,1M-0.7,-0.7L0.7,0.7M-0.7,0.7L0.7,-0.7", "size": 72, "strokeWidth": 1.2}}},
      {"transform": [{"filter": {"field": "r", "equal": 1}}], "mark": {"type": "point", "filled": false, "opacity": 0, "size": 81, "strokeWidth": 1.5},
       "encoding": {
         "color": {"field": "s", "type": "nominal", "legend": {"title": null, "orient": "none", "legendX": 335, "legendY": 14, "labelExpr": "datum.label=='a'?'A*+LowLinear':datum.label=='b'?'LowLinear':datum.label=='c'?'A*+HighLinear':datum.label=='d'?'HighLinear':datum.label=='e'?'A*+HighLow':'HighLow'"}},
         "shape": {"field": "s", "type": "nominal", "scale": {"domain": ["a","b","c","d","e","f"], "range": ["M-5.2,0L5.2,0M0,-1L0,1M-0.7,-0.7L0.7,0.7M-0.7,0.7L0.7,-0.7","M-5.2,0L5.2,0M0,-1.2L0,1.2","M-5.2,0L5.2,0M0,-1L0,1M-0.7,-0.7L0.7,0.7M-0.7,0.7L0.7,-0.7","M-5.2,0L5.2,0M0,-1.2L0,1.2","M-5.2,0L5.2,0M0,-1L0,1M-0.7,-0.7L0.7,0.7M-0.7,0.7L0.7,-0.7","M-5.2,0L5.2,0M0,-1L0,1M-0.7,-0.7L0.7,0.7M-0.7,0.7L0.7,-0.7"]}, "legend": {"title": null, "orient": "none", "legendX": 335, "legendY": 14, "labelExpr": "datum.label=='a'?'A*+LowLinear':datum.label=='b'?'LowLinear':datum.label=='c'?'A*+HighLinear':datum.label=='d'?'HighLinear':datum.label=='e'?'A*+HighLow':'HighLow'"}}
       }}
    ]
  }]
}
]
}
